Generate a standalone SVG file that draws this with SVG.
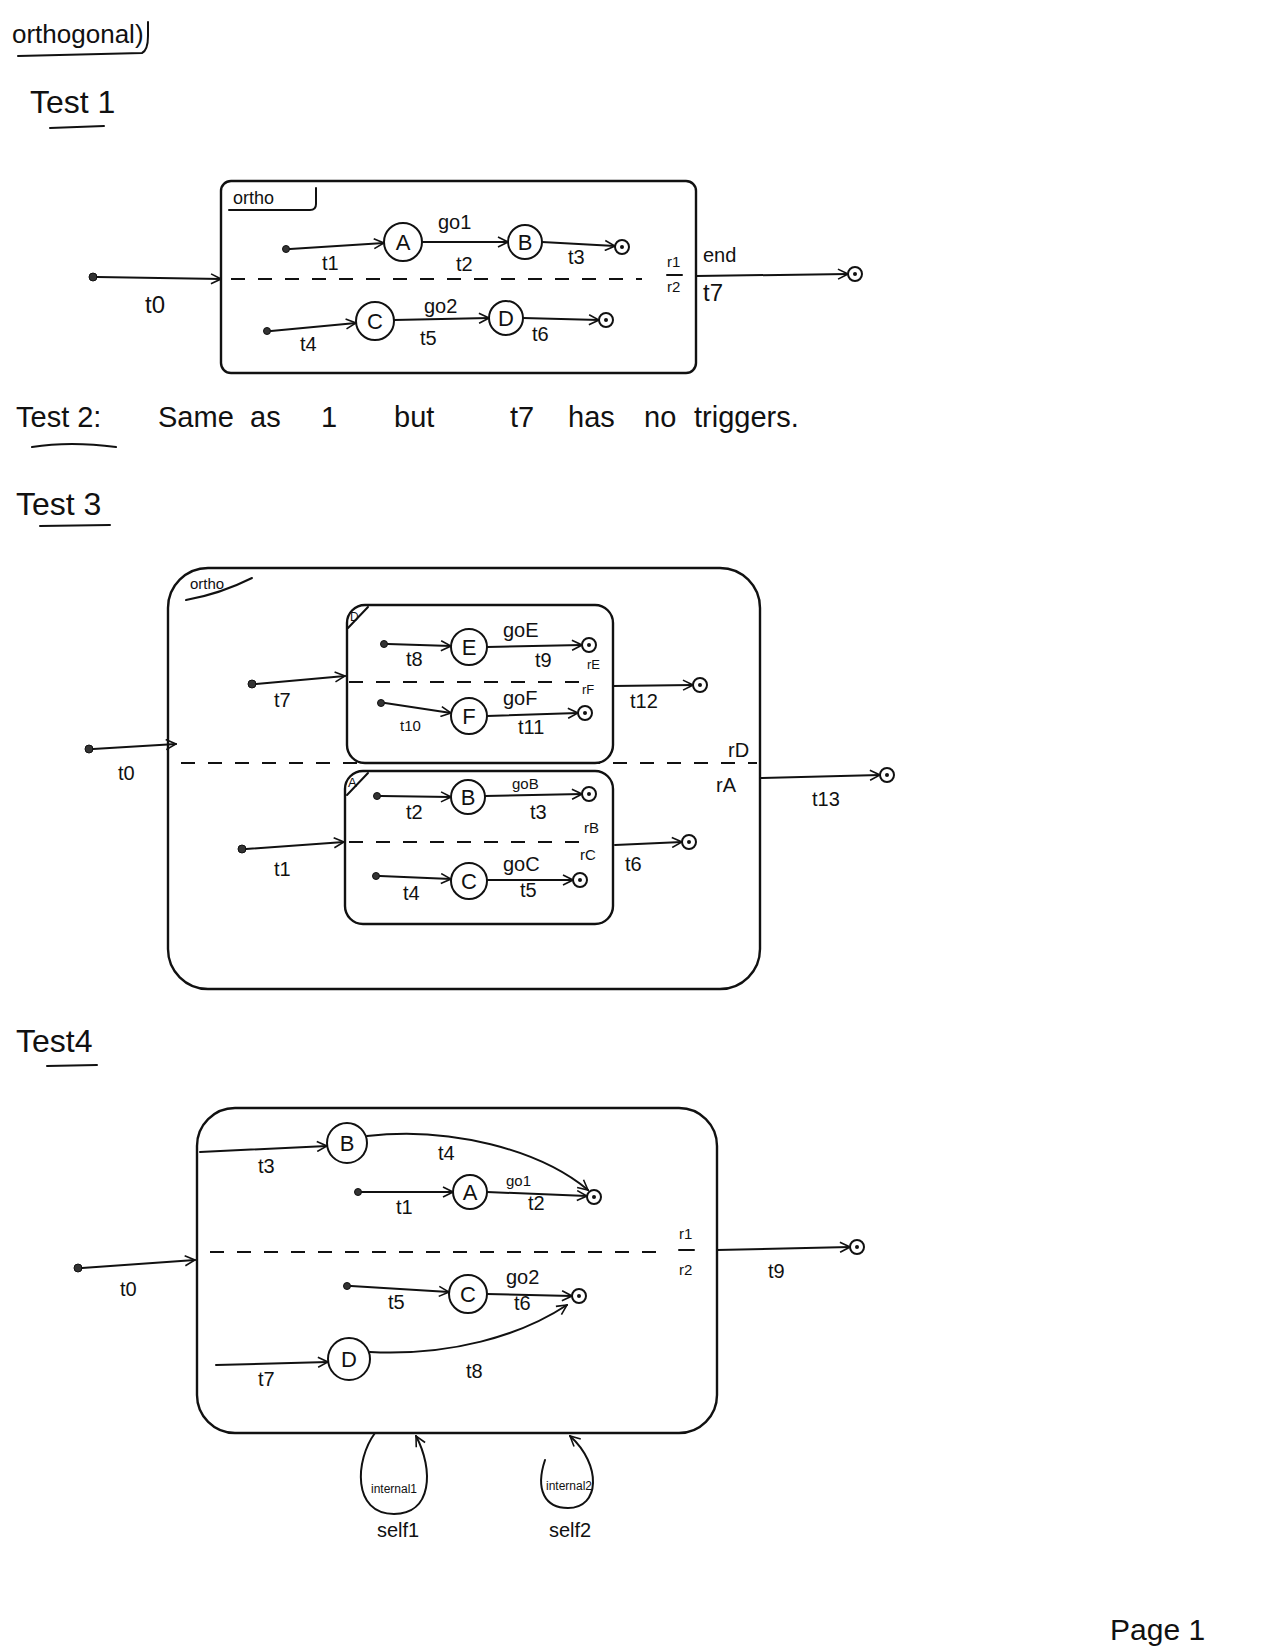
<svg xmlns="http://www.w3.org/2000/svg" width="1275" height="1650" viewBox="0 0 1275 1650">
<defs>
<marker id="arr" viewBox="0 0 12 12" refX="11" refY="6" markerWidth="12" markerHeight="12" markerUnits="userSpaceOnUse" orient="auto">
<path d="M1,1 L11,6 L1,11" fill="none" stroke="#111" stroke-width="1.6"/>
</marker>
</defs>
<style>
.ln{fill:none;stroke:#111;stroke-width:2;stroke-linecap:round}
.bx{fill:none;stroke:#111;stroke-width:2.4}
.ds{fill:none;stroke:#111;stroke-width:2;stroke-dasharray:14 13}
.st{fill:#fff;stroke:#111;stroke-width:2}
.ini{fill:#333;stroke:#111;stroke-width:1}
.fin{fill:#fff;stroke:#111;stroke-width:2}
.fd{fill:#111}
text{font-family:"Liberation Sans","DejaVu Sans",sans-serif;fill:#111}
.lb{font-size:20px}
.sl{font-size:15px}
.sn{font-size:22px;text-anchor:middle}
.hd{font-size:32px}
.t2{font-size:29px}
</style>
<rect x="0" y="0" width="1275" height="1650" fill="#fff"/>

<!-- headers -->
<g id="title">
<text x="12" y="43" font-size="26">orthogonal)</text>
<path class="ln" d="M18,56 L142,53 Q148,50 148,36 L148,22"/>
</g>
<g id="test1-hdr"><text class="hd" x="30" y="113">Test 1</text><path class="ln" d="M50,128 L104,126"/></g>
<g id="test2-hdr">
<text class="t2" x="16" y="427">Test 2:</text>
<text class="t2" x="158" y="427">Same</text>
<text class="t2" x="250" y="427">as</text>
<text class="t2" x="321" y="427">1</text>
<text class="t2" x="394" y="427">but</text>
<text class="t2" x="510" y="427">t7</text>
<text class="t2" x="568" y="427">has</text>
<text class="t2" x="644" y="427">no</text>
<text class="t2" x="694" y="427">triggers.</text>
<path class="ln" d="M32,447 Q70,441 116,447"/>
</g>
<g id="test3-hdr"><text class="hd" x="16" y="515">Test 3</text><path class="ln" d="M40,526 L110,525"/></g>
<g id="test4-hdr"><text class="hd" x="16" y="1052">Test4</text><path class="ln" d="M47,1066 L97,1065"/></g>
<g id="page"><text x="1110" y="1640" font-size="30">Page 1</text></g>

<!-- ================= TEST 1 ================= -->
<g id="t1-ortho">
<rect class="bx" x="221" y="181" width="475" height="192" rx="10"/>
<path class="ln" d="M229,210 L310,210 Q316,210 316,204 L316,188"/>
<text x="233" y="204" font-size="18">ortho</text>
<path class="ds" d="M231,279 L642,279"/>
<text class="sl" x="667" y="267">r1</text>
<path class="ln" d="M667,275 L682,275"/>
<text class="sl" x="667" y="292">r2</text>
</g>
<g id="t1-init"><circle class="ini" cx="93" cy="277" r="4"/></g>
<g id="t1-i1"><circle class="ini" cx="286" cy="249" r="3.5"/></g>
<g id="t1-A"><circle class="st" cx="403" cy="242" r="19"/><text class="sn" x="403" y="250">A</text></g>
<g id="t1-B"><circle class="st" cx="525" cy="242" r="17"/><text class="sn" x="525" y="250">B</text></g>
<g id="t1-f1"><circle class="fin" cx="622" cy="247" r="7"/><circle class="fd" cx="622" cy="247" r="2"/></g>
<g id="t1-i2"><circle class="ini" cx="267" cy="331" r="3.5"/></g>
<g id="t1-C"><circle class="st" cx="375" cy="321" r="19"/><text class="sn" x="375" y="329">C</text></g>
<g id="t1-D"><circle class="st" cx="506" cy="318" r="17"/><text class="sn" x="506" y="326">D</text></g>
<g id="t1-f2"><circle class="fin" cx="606" cy="320" r="7"/><circle class="fd" cx="606" cy="320" r="2"/></g>
<g id="t1-fend"><circle class="fin" cx="855" cy="274" r="7"/><circle class="fd" cx="855" cy="274" r="2"/></g>

<g id="t1-connectors">
<path class="ln" d="M97,277 L221,279" marker-end="url(#arr)"/>
<text x="145" y="313" font-size="24">t0</text>
<path class="ln" d="M290,249 L384,243" marker-end="url(#arr)"/>
<text class="lb" x="322" y="270">t1</text>
<path class="ln" d="M422,242 L508,242" marker-end="url(#arr)"/>
<text class="lb" x="438" y="229">go1</text>
<text class="lb" x="456" y="271">t2</text>
<path class="ln" d="M542,242 L615,246" marker-end="url(#arr)"/>
<text class="lb" x="568" y="264">t3</text>
<path class="ln" d="M271,331 L356,323" marker-end="url(#arr)"/>
<text class="lb" x="300" y="351">t4</text>
<path class="ln" d="M394,320 L489,318" marker-end="url(#arr)"/>
<text class="lb" x="424" y="313">go2</text>
<text class="lb" x="420" y="345">t5</text>
<path class="ln" d="M523,318 L599,320" marker-end="url(#arr)"/>
<text class="lb" x="532" y="341">t6</text>
<path class="ln" d="M696,276 L848,274" marker-end="url(#arr)"/>
<text class="lb" x="703" y="262">end</text>
<text x="703" y="301" font-size="24">t7</text>
</g>

<!-- ================= TEST 3 ================= -->
<g id="t3-ortho">
<rect class="bx" x="168" y="568" width="592" height="421" rx="40"/>
<text x="190" y="589" font-size="15">ortho</text>
<path class="ln" d="M186,600 Q220,594 252,578"/>
<path class="ds" d="M181,763 L757,763"/>
<text class="lb" x="728" y="757">rD</text>
<text class="lb" x="716" y="792">rA</text>
</g>
<g id="t3-D">
<rect class="bx" x="347" y="605" width="266" height="158" rx="18"/>
<text x="350" y="621" font-size="12">D</text>
<path class="ln" d="M348,628 L368,607"/>
<path class="ds" d="M349,682 L582,682"/>
<text x="587" y="669" font-size="13">rE</text>
<text x="582" y="694" font-size="13">rF</text>
</g>
<g id="t3-A">
<rect class="bx" x="345" y="771" width="268" height="153" rx="18"/>
<text x="348" y="787" font-size="13">A</text>
<path class="ln" d="M347,795 L368,773"/>
<path class="ds" d="M349,842 L580,842"/>
<text class="sl" x="584" y="833">rB</text>
<text class="sl" x="580" y="860">rC</text>
</g>
<g id="t3-init"><circle class="ini" cx="89" cy="749" r="4"/></g>
<g id="t3-iD"><circle class="ini" cx="252" cy="684" r="4"/></g>
<g id="t3-iA"><circle class="ini" cx="242" cy="849" r="4"/></g>
<g id="t3-iE"><circle class="ini" cx="384" cy="644" r="3.5"/></g>
<g id="t3-E"><circle class="st" cx="469" cy="647" r="18"/><text class="sn" x="469" y="655">E</text></g>
<g id="t3-fE"><circle class="fin" cx="589" cy="645" r="7"/><circle class="fd" cx="589" cy="645" r="2"/></g>
<g id="t3-iF"><circle class="ini" cx="381" cy="703" r="3.5"/></g>
<g id="t3-F"><circle class="st" cx="469" cy="716" r="18"/><text class="sn" x="469" y="724">F</text></g>
<g id="t3-fF"><circle class="fin" cx="585" cy="713" r="7"/><circle class="fd" cx="585" cy="713" r="2"/></g>
<g id="t3-fD"><circle class="fin" cx="700" cy="685" r="7"/><circle class="fd" cx="700" cy="685" r="2"/></g>
<g id="t3-iB"><circle class="ini" cx="377" cy="796" r="3.5"/></g>
<g id="t3-B"><circle class="st" cx="468" cy="797" r="17"/><text class="sn" x="468" y="805">B</text></g>
<g id="t3-fB"><circle class="fin" cx="589" cy="794" r="7"/><circle class="fd" cx="589" cy="794" r="2"/></g>
<g id="t3-iC"><circle class="ini" cx="376" cy="876" r="3.5"/></g>
<g id="t3-C"><circle class="st" cx="469" cy="881" r="18"/><text class="sn" x="469" y="889">C</text></g>
<g id="t3-fC"><circle class="fin" cx="580" cy="880" r="7"/><circle class="fd" cx="580" cy="880" r="2"/></g>
<g id="t3-fA"><circle class="fin" cx="689" cy="842" r="7"/><circle class="fd" cx="689" cy="842" r="2"/></g>
<g id="t3-fEnd"><circle class="fin" cx="887" cy="775" r="7"/><circle class="fd" cx="887" cy="775" r="2"/></g>

<g id="t3-connectors">
<path class="ln" d="M93,749 L176,744" marker-end="url(#arr)"/>
<text class="lb" x="118" y="780">t0</text>
<path class="ln" d="M256,684 L345,676" marker-end="url(#arr)"/>
<text class="lb" x="274" y="707">t7</text>
<path class="ln" d="M246,849 L344,842" marker-end="url(#arr)"/>
<text class="lb" x="274" y="876">t1</text>
<path class="ln" d="M388,644 L451,646" marker-end="url(#arr)"/>
<text class="lb" x="406" y="666">t8</text>
<path class="ln" d="M487,647 L582,645" marker-end="url(#arr)"/>
<text class="lb" x="503" y="637">goE</text>
<text class="lb" x="535" y="667">t9</text>
<path class="ln" d="M385,703 L451,713" marker-end="url(#arr)"/>
<text class="sl" x="400" y="731">t10</text>
<path class="ln" d="M487,716 L578,713" marker-end="url(#arr)"/>
<text class="lb" x="503" y="705">goF</text>
<text class="lb" x="518" y="734">t11</text>
<path class="ln" d="M613,686 L693,685" marker-end="url(#arr)"/>
<text class="lb" x="630" y="708">t12</text>
<path class="ln" d="M381,796 L451,797" marker-end="url(#arr)"/>
<text class="lb" x="406" y="819">t2</text>
<path class="ln" d="M485,796 L582,794" marker-end="url(#arr)"/>
<text class="sl" x="512" y="789">goB</text>
<text class="lb" x="530" y="819">t3</text>
<path class="ln" d="M380,876 L451,879" marker-end="url(#arr)"/>
<text class="lb" x="403" y="900">t4</text>
<path class="ln" d="M487,880 L573,880" marker-end="url(#arr)"/>
<text class="lb" x="503" y="871">goC</text>
<text class="lb" x="520" y="897">t5</text>
<path class="ln" d="M615,845 L682,842" marker-end="url(#arr)"/>
<text class="lb" x="625" y="871">t6</text>
<path class="ln" d="M760,778 L880,775" marker-end="url(#arr)"/>
<text class="lb" x="812" y="806">t13</text>
</g>

<!-- ================= TEST 4 ================= -->
<g id="t4-box">
<rect class="bx" x="197" y="1108" width="520" height="325" rx="38"/>
<path class="ds" d="M210,1252 L668,1252"/>
<text class="sl" x="679" y="1239">r1</text>
<path class="ln" d="M679,1250 L694,1250"/>
<text class="sl" x="679" y="1275">r2</text>
</g>
<g id="t4-init"><circle class="ini" cx="78" cy="1268" r="4"/></g>
<g id="t4-B"><circle class="st" cx="347" cy="1143" r="20"/><text class="sn" x="347" y="1151">B</text></g>
<g id="t4-iA"><circle class="ini" cx="358" cy="1192" r="3.5"/></g>
<g id="t4-A"><circle class="st" cx="470" cy="1192" r="17"/><text class="sn" x="470" y="1200">A</text></g>
<g id="t4-f1"><circle class="fin" cx="594" cy="1197" r="7"/><circle class="fd" cx="594" cy="1197" r="2"/></g>
<g id="t4-iC"><circle class="ini" cx="347" cy="1286" r="3.5"/></g>
<g id="t4-C"><circle class="st" cx="468" cy="1294" r="19"/><text class="sn" x="468" y="1302">C</text></g>
<g id="t4-f2"><circle class="fin" cx="579" cy="1296" r="7"/><circle class="fd" cx="579" cy="1296" r="2"/></g>
<g id="t4-D"><circle class="st" cx="349" cy="1359" r="21"/><text class="sn" x="349" y="1367">D</text></g>
<g id="t4-fEnd"><circle class="fin" cx="857" cy="1247" r="7"/><circle class="fd" cx="857" cy="1247" r="2"/></g>

<g id="t4-connectors">
<path class="ln" d="M82,1268 L195,1260" marker-end="url(#arr)"/>
<text class="lb" x="120" y="1296">t0</text>
<path class="ln" d="M200,1152 L327,1146" marker-end="url(#arr)"/>
<text class="lb" x="258" y="1173">t3</text>
<path class="ln" d="M367,1136 C450,1126 540,1150 588,1190" marker-end="url(#arr)"/>
<text class="lb" x="438" y="1160">t4</text>
<path class="ln" d="M362,1192 L453,1192" marker-end="url(#arr)"/>
<text class="lb" x="396" y="1214">t1</text>
<path class="ln" d="M487,1192 L587,1196" marker-end="url(#arr)"/>
<text class="sl" x="506" y="1186">go1</text>
<text class="lb" x="528" y="1210">t2</text>
<path class="ln" d="M351,1286 L449,1292" marker-end="url(#arr)"/>
<text class="lb" x="388" y="1309">t5</text>
<path class="ln" d="M487,1294 L572,1296" marker-end="url(#arr)"/>
<text class="lb" x="506" y="1284">go2</text>
<text class="lb" x="514" y="1310">t6</text>
<path class="ln" d="M216,1365 L328,1362" marker-end="url(#arr)"/>
<text class="lb" x="258" y="1386">t7</text>
<path class="ln" d="M370,1352 C450,1356 520,1336 567,1305" marker-end="url(#arr)"/>
<text class="lb" x="466" y="1378">t8</text>
<path class="ln" d="M717,1250 L850,1247" marker-end="url(#arr)"/>
<text class="lb" x="768" y="1278">t9</text>
<path class="ln" d="M375,1433 C355,1460 352,1514 394,1514 C432,1514 434,1470 416,1436" marker-end="url(#arr)"/>
<text x="394" y="1493" font-size="12" text-anchor="middle">internal1</text>
<text class="lb" x="398" y="1537" text-anchor="middle">self1</text>
<path class="ln" d="M545,1460 C535,1490 545,1508 568,1508 C600,1508 602,1465 570,1436" marker-end="url(#arr)"/>
<text x="569" y="1490" font-size="12" text-anchor="middle">internal2</text>
<text class="lb" x="570" y="1537" text-anchor="middle">self2</text>
</g>
</svg>
